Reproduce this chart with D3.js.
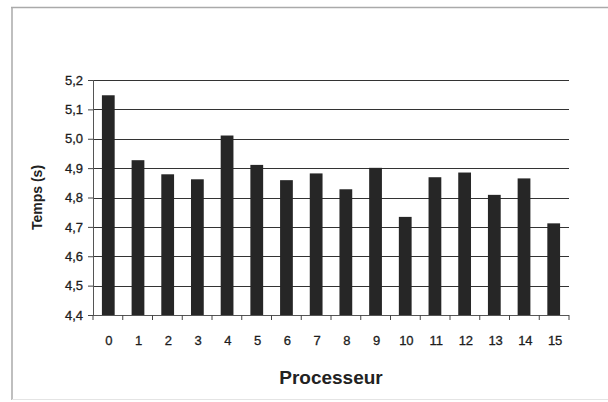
<!DOCTYPE html>
<html>
<head>
<meta charset="utf-8">
<script src="https://cdn.jsdelivr.net/npm/d3@7"></script>
<style>
  html, body { margin: 0; padding: 0; background: #fff; }
  svg { display: block; }
  text { font-family: "Liberation Sans", Arial, sans-serif; fill: #222; }
</style>
</head>
<body>
<svg id="chart" width="608" height="402"></svg>
<script>
// Temps d'exécution par processeur
const processeurs = ["0","1","2","3","4","5","6","7","8","9","10","11","12","13","14","15"];
const temps = [5.148, 4.927, 4.879, 4.862, 5.011, 4.911, 4.859, 4.882, 4.828, 4.901, 4.734, 4.869, 4.885, 4.809, 4.865, 4.712];
const yTicks = [4.4, 4.5, 4.6, 4.7, 4.8, 4.9, 5.0, 5.1, 5.2];

const svg = d3.select("#chart");
const W = 608, H = 402;
const m = { left: 93, right: 39, top: 80, bottom: 87 };
const plotW = W - m.left - m.right;
const plotH = H - m.top - m.bottom;

// Cadre extérieur
svg.append("line").attr("x1", 11).attr("x2", W).attr("y1", 7.5).attr("y2", 7.5)
  .attr("stroke", "#aaa").attr("stroke-width", 1.5);
svg.append("line").attr("x1", 12).attr("x2", 12).attr("y1", 7).attr("y2", 400)
  .attr("stroke", "#aaa").attr("stroke-width", 1.5);
svg.append("line").attr("x1", 12).attr("x2", W).attr("y1", 399.5).attr("y2", 399.5)
  .attr("stroke", "#e4e4e4").attr("stroke-width", 1);

const x = d3.scaleBand().domain(processeurs).range([0, plotW]).paddingInner(0.57).paddingOuter(0.3);
const y = d3.scaleLinear().domain([4.4, 5.2]).range([plotH, 0]);
const fmt = d => d.toFixed(1).replace(".", ",");

const g = svg.append("g").attr("transform", `translate(${m.left},${m.top})`);

// Quadrillage horizontal
g.append("g").selectAll("line").data(yTicks.slice(1)).join("line")
  .attr("x1", 0).attr("x2", plotW)
  .attr("y1", d => Math.round(y(d)) + 0.5).attr("y2", d => Math.round(y(d)) + 0.5)
  .attr("stroke", "#333").attr("stroke-width", 1.1);

// Barres
g.append("g").selectAll("rect").data(temps).join("rect")
  .attr("x", (d, i) => x(processeurs[i]))
  .attr("width", x.bandwidth())
  .attr("y", d => y(d))
  .attr("height", d => plotH - y(d))
  .attr("fill", "#262626");

// Axe Y
const yAxis = g.append("g")
  .call(d3.axisLeft(y).tickValues(yTicks).tickFormat(fmt).tickSize(5).tickPadding(5));
yAxis.select(".domain").attr("stroke", "#555").attr("d", `M0.5,0V${plotH}`);
yAxis.selectAll(".tick line").attr("stroke", "#444");
yAxis.selectAll("text").attr("font-size", 13).attr("fill", "#1a1a1a")
  .attr("stroke", "#1a1a1a").attr("stroke-width", 0.3);

// Axe X avec graduations entre les catégories
const xAxis = g.append("g").attr("transform", `translate(0,${plotH})`);
xAxis.append("line").attr("x1", 0).attr("x2", plotW).attr("y1", 0.5).attr("y2", 0.5)
  .attr("stroke", "#555");
const bounds = d3.range(processeurs.length + 1).map(i => i * plotW / processeurs.length);
xAxis.selectAll("line.tk").data(bounds).join("line").attr("class", "tk")
  .attr("x1", d => d).attr("x2", d => d).attr("y1", 0).attr("y2", 5)
  .attr("stroke", "#444");
xAxis.selectAll("text").data(processeurs).join("text")
  .attr("x", (d, i) => (bounds[i] + bounds[i + 1]) / 2 + 1)
  .attr("y", 30)
  .attr("text-anchor", "middle")
  .attr("font-size", 13).attr("fill", "#1a1a1a")
  .attr("stroke", "#1a1a1a").attr("stroke-width", 0.3)
  .text(d => d);

// Titres des axes
svg.append("text")
  .attr("transform", `translate(42,${m.top + plotH / 2}) rotate(-90)`)
  .attr("text-anchor", "middle")
  .attr("font-size", 14).attr("font-weight", "bold")
  .text("Temps (s)");

svg.append("text")
  .attr("x", m.left + plotW / 2)
  .attr("y", 384)
  .attr("text-anchor", "middle")
  .attr("font-size", 19).attr("font-weight", "bold")
  .text("Processeur");
</script>
</body>
</html>
